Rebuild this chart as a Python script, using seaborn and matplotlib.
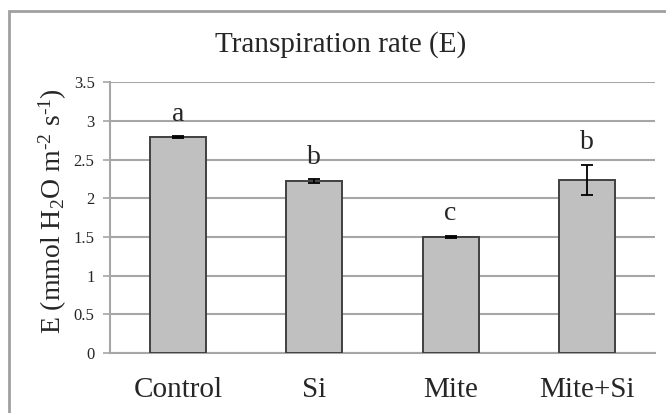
import numpy as np
import pandas as pd
import matplotlib
matplotlib.use("Agg")
import matplotlib.pyplot as plt
import seaborn as sns
from matplotlib.patches import Rectangle
from matplotlib.ticker import FixedLocator

# -----------------------------
# Data
# -----------------------------
treatments = ["Control", "Si", "Mite", "Mite+Si"]
transpiration = [2.79, 2.22, 1.50, 2.24]
std_err = [0.01, 0.025, 0.012, 0.195]
letters = ["a", "b", "c", "b"]

df = pd.DataFrame({"treatment": treatments, "E": transpiration, "se": std_err})

# -----------------------------
# Style
# -----------------------------
sns.set_style("white")
plt.rcParams["font.family"] = ["Liberation Serif", "DejaVu Serif"]
plt.rcParams["mathtext.fontset"] = "custom"
plt.rcParams["mathtext.rm"] = "Liberation Serif"
plt.rcParams["mathtext.it"] = "Liberation Serif:italic"

grid_col = "#a6a6a6"

fig = plt.figure(figsize=(6.66, 4.13), dpi=100)
ax = fig.add_axes([0.165, 0.1448, 0.8185, 0.6559])

sns.barplot(
    data=df, x="treatment", y="E", order=treatments,
    color="#c0c0c0", edgecolor="#404040", linewidth=1.4,
    width=0.41, saturation=1, errorbar=None, ax=ax, zorder=3,
)

# error bars
ax.errorbar(
    np.arange(len(treatments)), df["E"], yerr=df["se"],
    fmt="none", ecolor="black", elinewidth=1.3, capsize=4, capthick=1.3, zorder=4,
)

# significance letters
for i, (v, e, lab) in enumerate(zip(transpiration, std_err, letters)):
    ax.annotate(lab, xy=(i, v + e), xytext=(0, 7), textcoords="offset points",
                ha="center", va="bottom", fontsize=20)

# -----------------------------
# Axes formatting
# -----------------------------
ax.set_ylim(0, 3.5)
ax.set_xlim(-0.5, len(treatments) - 0.5)
ax.set_yticks(np.arange(0, 3.51, 0.5))
ax.set_yticklabels(["0", "0.5", "1", "1.5", "2", "2.5", "3", "3.5"], fontsize=12)
ax.yaxis.grid(True, color=grid_col, linewidth=1.5, zorder=0)
ax.set_axisbelow(True)

ax.set_xlabel("")
ax.set_ylabel("")
ax.tick_params(axis="x", which="major", length=0, pad=17, labelsize=21)
ax.xaxis.set_minor_locator(FixedLocator(np.arange(-0.5, len(treatments), 1.0)))
ax.tick_params(axis="x", which="minor", length=7, width=1.2, color=grid_col, direction="out")
ax.tick_params(axis="y", length=5, width=1.2, color=grid_col, direction="out", pad=6, left=True)

for side in ["top", "right"]:
    ax.spines[side].set_visible(False)
for side in ["left", "bottom"]:
    ax.spines[side].set_color(grid_col)
    ax.spines[side].set_linewidth(1.5)

# title and y label
fig.text(0.511, 0.893, "Transpiration rate (E)", ha="center", va="center", fontsize=21)
fig.text(0.079, 0.49, r"E (mmol H$_2$O m$^{\text{-2}}$ s$^{\text{-1}}$)", rotation=90,
         ha="center", va="center", fontsize=20)

# outer chart frame
fig.add_artist(Rectangle((8.5 / 666, -0.1), 1.2, 1.1 - 11 / 413, transform=fig.transFigure,
                         fill=False, edgecolor="#a0a0a0", linewidth=2))

fig.savefig("out.png", dpi=100)
plt.close(fig)
